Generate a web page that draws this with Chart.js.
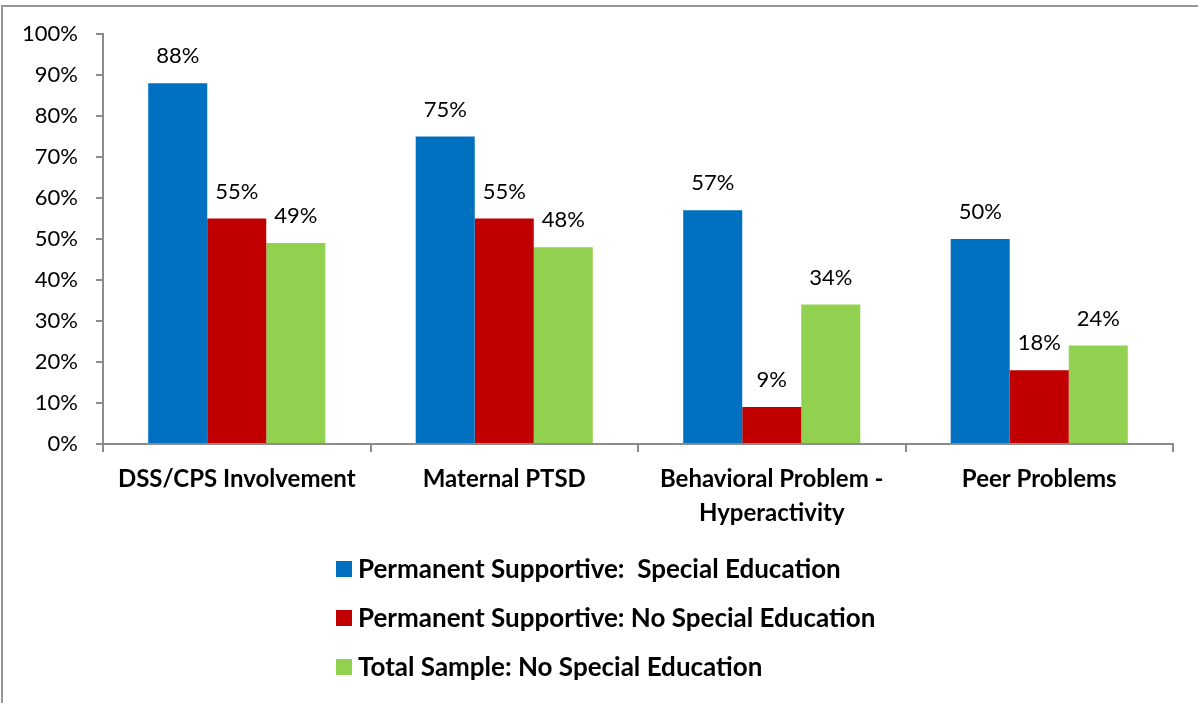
<!DOCTYPE html>
<html>
<head>
<meta charset="utf-8">
<script src="https://cdn.jsdelivr.net/npm/chart.js@4.4.1/dist/chart.umd.min.js"></script>
<style>
  html, body { margin: 0; padding: 0; background: #fff; }
  #wrap { position: relative; width: 1198px; height: 703px; overflow: hidden; }
  #frame { position: absolute; left: 1px; top: 5px; width: 1400px; height: 900px; border: 2px solid #979797; box-sizing: border-box; }
  #c { position: absolute; left: 0; top: 0; }
</style>
</head>
<body>
<div id="wrap">
  <div id="frame"></div>
  <canvas id="c" width="1198" height="703"></canvas>
</div>
<script>
const categories = [
  'DSS/CPS Involvement',
  'Maternal PTSD',
  ['Behavioral Problem -', 'Hyperactivity'],
  'Peer Problems'
];
const seriesNames = [
  'Permanent Supportive:  Special Education',
  'Permanent Supportive: No Special Education',
  'Total Sample: No Special Education'
];
const specialEd = [88, 75, 57, 50];
const noSpecialEd = [55, 55, 9, 18];
const totalSample = [49, 48, 34, 24];
const colors = ['#0070C0', '#C00000', '#92D050'];
const yTicks = [0, 10, 20, 30, 40, 50, 60, 70, 80, 90, 100];

const FONT = 'Lato, "Liberation Sans", sans-serif';
const AXIS_GRAY = '#8c8c8c';

const valueLabels = {
  id: 'valueLabels',
  afterDatasetsDraw(chart) {
    const ctx = chart.ctx;
    ctx.save();
    ctx.font = '22px ' + FONT;
    ctx.fillStyle = '#000';
    ctx.textAlign = 'center';
    ctx.textBaseline = 'middle';
    chart.data.datasets.forEach((ds, i) => {
      const meta = chart.getDatasetMeta(i);
      meta.data.forEach((bar, j) => {
        ctx.fillText(ds.data[j] + '%', bar.x, bar.y - 27);
      });
    });
    ctx.restore();
  }
};

const customLegend = {
  id: 'customLegend',
  afterDraw(chart) {
    const ctx = chart.ctx;
    ctx.save();
    ctx.font = 'bold 26px ' + FONT;
    ctx.textBaseline = 'middle';
    ctx.textAlign = 'left';
    chart.data.datasets.forEach((ds, i) => {
      const cy = 569 + i * 49;
      ctx.fillStyle = ds.backgroundColor;
      ctx.fillRect(336, cy - 8, 16, 16);
      ctx.fillStyle = '#000';
      ctx.fillText(ds.label, 358, cy + 1);
    });
    ctx.restore();
  }
};

new Chart(document.getElementById('c'), {
  type: 'bar',
  data: {
    labels: categories,
    datasets: [
      { label: seriesNames[0], data: specialEd, backgroundColor: colors[0] },
      { label: seriesNames[1], data: noSpecialEd, backgroundColor: colors[1] },
      { label: seriesNames[2], data: totalSample, backgroundColor: colors[2] }
    ]
  },
  options: {
    responsive: false,
    animation: false,
    devicePixelRatio: 1,
    layout: { padding: { top: 34, right: 25, left: 0, bottom: 0 } },
    datasets: { bar: { categoryPercentage: 0.662, barPercentage: 1, borderWidth: 0 } },
    plugins: { legend: { display: false }, tooltip: { enabled: false } },
    scales: {
      y: {
        min: 0, max: 100,
        afterFit(s) { s.width = 103; },
        afterBuildTicks(s) { s.ticks = yTicks.map(v => ({ value: v })); },
        ticks: {
          callback: v => v + '%',
          color: '#000',
          font: { family: FONT, size: 22 },
          padding: 18
        },
        grid: { drawOnChartArea: false, drawTicks: true, tickLength: 7, color: AXIS_GRAY, lineWidth: 2 },
        border: { display: true, color: AXIS_GRAY, width: 2 }
      },
      x: {
        afterFit(s) { s.height = 703 - 34 - 410 ; },
        ticks: {
          color: '#000',
          font: { family: FONT, size: 24, weight: 'bold', lineHeight: '34px' },
          padding: 10,
          maxRotation: 0,
          autoSkip: false
        },
        grid: { offset: true, drawOnChartArea: false, drawTicks: true, tickLength: 8, color: AXIS_GRAY, lineWidth: 2 },
        border: { display: true, color: AXIS_GRAY, width: 2 }
      }
    }
  },
  plugins: [valueLabels, customLegend]
});
</script>
</body>
</html>
